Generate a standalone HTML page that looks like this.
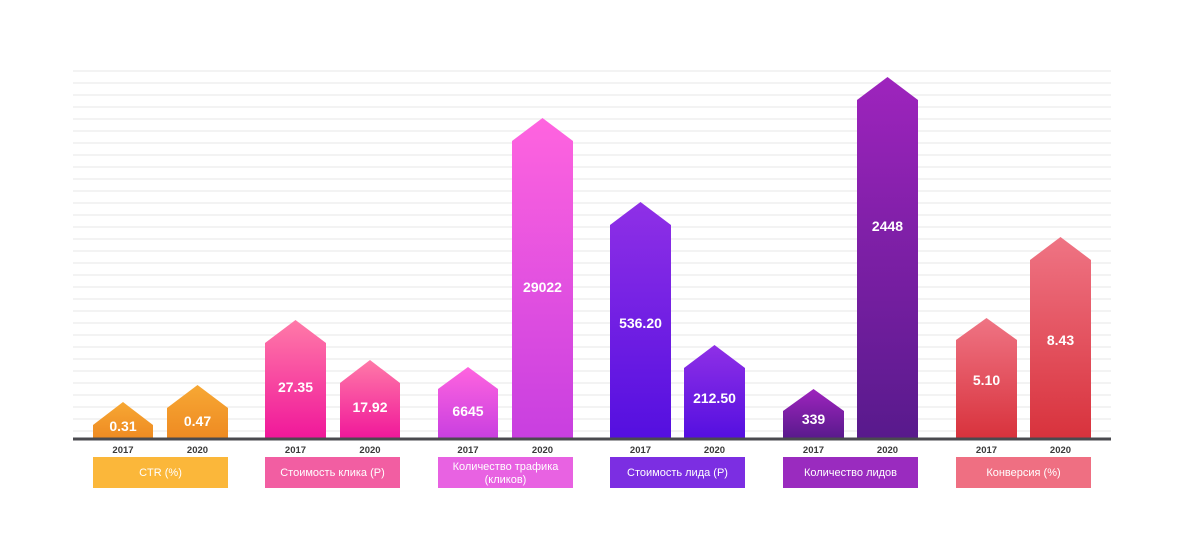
<!DOCTYPE html><html><head><meta charset="utf-8"><style>body{margin:0;background:#fff}svg{display:block}text{font-family:"Liberation Sans",sans-serif;font-weight:bold}</style></head><body>
<svg width="1184" height="560" viewBox="0 0 1184 560">
<defs>
<linearGradient id="g1" x1="0" y1="0" x2="0" y2="1"><stop offset="0" stop-color="#f7a834"/><stop offset="1" stop-color="#ee8a22"/></linearGradient>
<linearGradient id="g2" x1="0" y1="0" x2="0" y2="1"><stop offset="0" stop-color="#ff7aa8"/><stop offset="1" stop-color="#f0179a"/></linearGradient>
<linearGradient id="g3" x1="0" y1="0" x2="0" y2="1"><stop offset="0" stop-color="#ff64df"/><stop offset="1" stop-color="#c83fe0"/></linearGradient>
<linearGradient id="g4" x1="0" y1="0" x2="0" y2="1"><stop offset="0" stop-color="#8f30e6"/><stop offset="1" stop-color="#540fe0"/></linearGradient>
<linearGradient id="g5" x1="0" y1="0" x2="0" y2="1"><stop offset="0" stop-color="#9e24bd"/><stop offset="1" stop-color="#581a8c"/></linearGradient>
<linearGradient id="g6" x1="0" y1="0" x2="0" y2="1"><stop offset="0" stop-color="#ef7484"/><stop offset="1" stop-color="#d8323c"/></linearGradient>
</defs>
<g stroke="#ebebeb" stroke-width="1.3">
<script>/* none */</script>
</g>
<g id="grid" stroke="#ececec" stroke-width="1.3"></g>
<g stroke="#ececec" stroke-width="1.3">
<line x1="73" x2="1111" y1="71" y2="71"/><line x1="73" x2="1111" y1="83" y2="83"/><line x1="73" x2="1111" y1="95" y2="95"/><line x1="73" x2="1111" y1="107" y2="107"/><line x1="73" x2="1111" y1="119" y2="119"/><line x1="73" x2="1111" y1="131" y2="131"/><line x1="73" x2="1111" y1="143" y2="143"/><line x1="73" x2="1111" y1="155" y2="155"/><line x1="73" x2="1111" y1="167" y2="167"/><line x1="73" x2="1111" y1="179" y2="179"/><line x1="73" x2="1111" y1="191" y2="191"/><line x1="73" x2="1111" y1="203" y2="203"/><line x1="73" x2="1111" y1="215" y2="215"/><line x1="73" x2="1111" y1="227" y2="227"/><line x1="73" x2="1111" y1="239" y2="239"/><line x1="73" x2="1111" y1="251" y2="251"/><line x1="73" x2="1111" y1="263" y2="263"/><line x1="73" x2="1111" y1="275" y2="275"/><line x1="73" x2="1111" y1="287" y2="287"/><line x1="73" x2="1111" y1="299" y2="299"/><line x1="73" x2="1111" y1="311" y2="311"/><line x1="73" x2="1111" y1="323" y2="323"/><line x1="73" x2="1111" y1="335" y2="335"/><line x1="73" x2="1111" y1="347" y2="347"/><line x1="73" x2="1111" y1="359" y2="359"/><line x1="73" x2="1111" y1="371" y2="371"/><line x1="73" x2="1111" y1="383" y2="383"/><line x1="73" x2="1111" y1="395" y2="395"/><line x1="73" x2="1111" y1="407" y2="407"/><line x1="73" x2="1111" y1="419" y2="419"/><line x1="73" x2="1111" y1="431" y2="431"/>
</g>
<g>
<polygon points="93,439 93,425 123,402 153,425 153,439" fill="url(#g1)"/>
<polygon points="167,439 167,408 197.5,385 228,408 228,439" fill="url(#g1)"/>
<polygon points="265,439 265,343 295.5,320 326,343 326,439" fill="url(#g2)"/>
<polygon points="340,439 340,383 370,360 400,383 400,439" fill="url(#g2)"/>
<polygon points="438,439 438,389 468,367 498,389 498,439" fill="url(#g3)"/>
<polygon points="512,439 512,141 542.5,118 573,141 573,439" fill="url(#g3)"/>
<polygon points="610,439 610,225 640.5,202 671,225 671,439" fill="url(#g4)"/>
<polygon points="684,439 684,368 714.5,345 745,368 745,439" fill="url(#g4)"/>
<polygon points="783,439 783,411 813.5,389 844,411 844,439" fill="url(#g5)"/>
<polygon points="857,439 857,100 887.5,77 918,100 918,439" fill="url(#g5)"/>
<polygon points="956,439 956,340 986.5,318 1017,340 1017,439" fill="url(#g6)"/>
<polygon points="1030,439 1030,260 1060.5,237 1091,260 1091,439" fill="url(#g6)"/>
</g>
<line x1="73" x2="1111" y1="439" y2="439" stroke="#4a4a4f" stroke-width="3"/>
<g fill="#fff" font-size="14" text-anchor="middle">
<text x="123" y="431">0.31</text><text x="197.5" y="426">0.47</text>
<text x="295.5" y="392">27.35</text><text x="370" y="412">17.92</text>
<text x="468" y="416">6645</text><text x="542.5" y="292">29022</text>
<text x="640.5" y="328">536.20</text><text x="714.5" y="403">212.50</text>
<text x="813.5" y="424">339</text><text x="887.5" y="231">2448</text>
<text x="986.5" y="385">5.10</text><text x="1060.5" y="345">8.43</text>
</g>
<g fill="#3a3a3a" font-size="9.5" text-anchor="middle">
<text x="123" y="453">2017</text><text x="197.5" y="453">2020</text>
<text x="295.5" y="453">2017</text><text x="370" y="453">2020</text>
<text x="468" y="453">2017</text><text x="542.5" y="453">2020</text>
<text x="640.5" y="453">2017</text><text x="714.5" y="453">2020</text>
<text x="813.5" y="453">2017</text><text x="887.5" y="453">2020</text>
<text x="986.5" y="453">2017</text><text x="1060.5" y="453">2020</text>
</g>
<rect x="93" y="457" width="135" height="31" fill="#fbb73a"/>
<rect x="265" y="457" width="135" height="31" fill="#f25ea2"/>
<rect x="438" y="457" width="135" height="31" fill="#e862e2"/>
<rect x="610" y="457" width="135" height="31" fill="#7c2ee2"/>
<rect x="783" y="457" width="135" height="31" fill="#9a2bbf"/>
<rect x="956" y="457" width="135" height="31" fill="#ef6f82"/>
<g fill="#fff" font-size="11" text-anchor="middle" style="font-weight:normal">
<text x="160.5" y="476" style="font-weight:normal">CTR (%)</text>
<text x="332.5" y="476" style="font-weight:normal">Стоимость клика (Р)</text>
<text x="505.5" y="470" style="font-weight:normal">Количество трафика</text>
<text x="505.5" y="483" style="font-weight:normal">(кликов)</text>
<text x="677.5" y="476" style="font-weight:normal">Стоимость лида (Р)</text>
<text x="850.5" y="476" style="font-weight:normal">Количество лидов</text>
<text x="1023.5" y="476" style="font-weight:normal">Конверсия (%)</text>
</g>
</svg>
</body></html>
